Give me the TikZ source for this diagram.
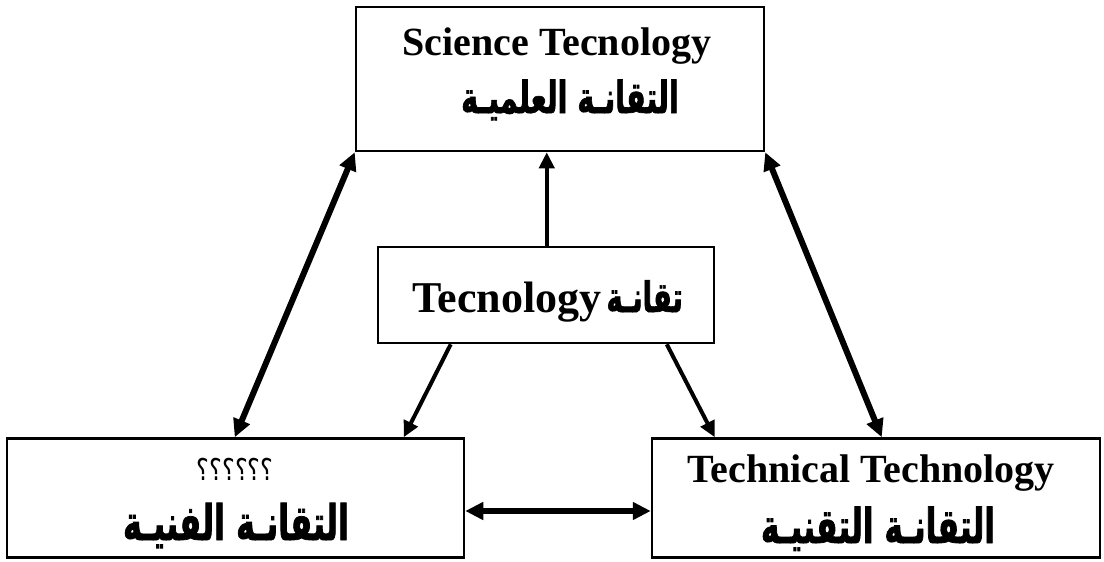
\documentclass[tikz,border=0pt]{standalone}
\usepackage{fontspec}
\setmainfont{Liberation Serif}
\newfontfamily\arabicfont[Script=Arabic,FakeStretch=0.65,FakeBold=1.5]{DejaVu Sans}
\newfontfamily\arabiclight[Script=Arabic,FakeStretch=0.8]{DejaVu Sans}
\TeXXeTstate=1
\usetikzlibrary{arrows.meta,calc}
\begin{document}
\begin{tikzpicture}[x=1pt,y=-1pt,
  box/.style={draw,line width=2.5pt,rectangle,inner sep=0pt},
  lat/.style={font=\bfseries\fontsize{#1}{#1}\selectfont,inner sep=0pt,anchor=base},
  ara/.style={font=\arabicfont\bfseries\fontsize{#1}{#1}\selectfont,inner sep=0pt,anchor=base},
  aralight/.style={font=\arabiclight\fontsize{#1}{#1}\selectfont,inner sep=0pt,anchor=base},
  twoway/.style={line width=#1,{Triangle[length=18pt,width=17pt]}-{Triangle[length=18pt,width=17pt]}},
  oneway/.style={line width=4pt,-{Triangle[length=16pt,width=15pt]}}]
\useasboundingbox (0,0) rectangle (1104,562);
% boxes
\node[box,minimum width=408pt,minimum height=144pt] (sci) at (560,79) {};
\node[box,minimum width=336pt,minimum height=96pt] (tec) at (546,295) {};
\node[box,minimum width=457pt,minimum height=119pt] (art) at (235.5,498) {};
\node[box,minimum width=448pt,minimum height=119pt] (tech) at (876,498) {};
% labels
\node[lat=40pt] (sciE) at (557,55) {Science Tecnology};
\node[ara=44pt] (sciA) at (570,113) {\beginR التقانـة العلميـة\endR};
\node[lat=44pt,anchor=base west] (tecE) at (412,312) {Tecnology};
\node[ara=42pt,anchor=base east] (tecA) at (683,312) {\beginR تقانـة\endR};
\node[aralight=30pt] (artQ) at (235,480) {\beginR ؟؟؟؟؟؟\endR};
\node[ara=49pt] (artA) at (236,540) {\beginR التقانـة الفنيـة\endR};
\node[lat=40pt] (techE) at (871,482) {Technical Technology};
\node[ara=48pt] (techA) at (878,543) {\beginR التقانـة التقنيـة\endR};
% connector end points
\coordinate (artIn) at ($(art.north west)+(229,0)$);
\coordinate (artIn2) at ($(art.north west)+(398,0)$);
\coordinate (techIn) at ($(tech.north west)+(231,0)$);
\coordinate (techIn2) at ($(tech.north west)+(64,0)$);
\coordinate (sciIn) at ($(sci.south west)+(192,0)$);
\coordinate (tecOutL) at ($(tec.south west)+(74,0)$);
\coordinate (tecOutR) at ($(tec.south west)+(290,0)$);
% connectors
\draw[oneway] (tec.north -| sciIn) -- (sciIn);
\draw[twoway=6pt] (sci.south west) -- (artIn);
\draw[twoway=6pt] (sci.south east) -- (techIn);
\draw[oneway] (tecOutL) -- (artIn2);
\draw[oneway] (tecOutR) -- (techIn2);
\draw[twoway=5.5pt] (art.east |- 0,511) -- (tech.west |- 0,511);
\end{tikzpicture}
\end{document}
